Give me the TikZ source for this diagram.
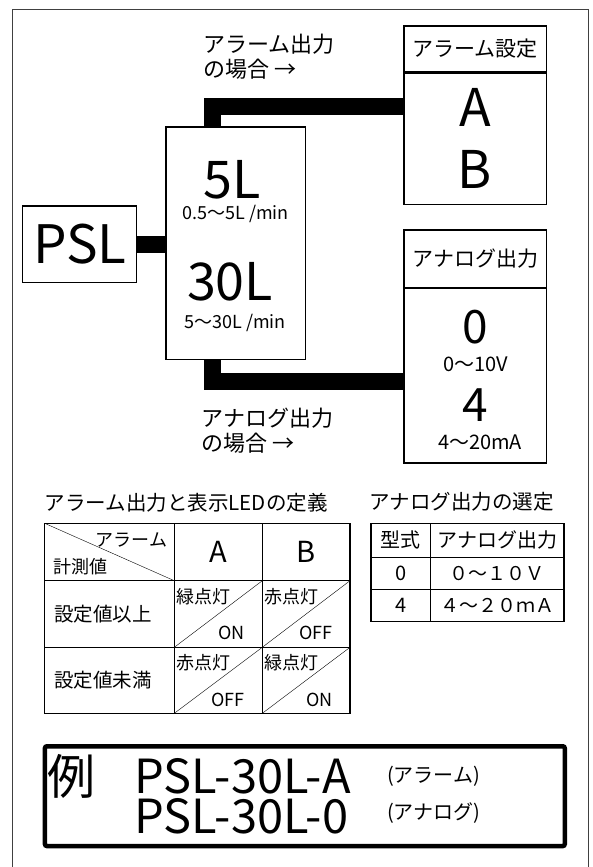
\documentclass[tikz,border=0pt]{standalone}
\usepackage{fontspec}
\setmainfont{Noto Sans CJK JP}
\usetikzlibrary{positioning,calc}
\tikzstyle{box}=[draw,line width=1.3pt,inner sep=0pt,rectangle]
\tikzstyle{bar}=[line width=16.5pt]
\tikzstyle{huge}=[inner sep=0pt,anchor=base,font=\fontsize{52}{52}\selectfont]
\tikzstyle{sub}=[inner sep=0pt,anchor=base,font=\fontsize{18}{20}\selectfont]
\tikzstyle{note}=[inner sep=0pt,anchor=north west,align=left,font=\fontsize{22}{25}\selectfont]
\tikzstyle{head}=[font=\fontsize{21}{24}\selectfont]
\tikzstyle{cell}=[inner sep=0pt,font=\fontsize{18}{20}\selectfont]
\tikzstyle{title}=[inner sep=0pt,anchor=west,font=\fontsize{20.5}{22}\selectfont]
\begin{document}
\begin{tikzpicture}[x=1pt,y=-1pt]
\useasboundingbox (0,0) rectangle (592,867);
\draw[line width=1pt,black!75] (12,870) -- (12,9.5) -- (588.5,9.5) -- (588.5,870);

% blocks
\node[box,minimum width=114pt,minimum height=76.7pt,font=\fontsize{53}{53}\selectfont] (psl) at (79.7,244.3) {PSL};
\node[box,minimum width=139.5pt,minimum height=232.3pt] (mid) at (235.7,243.2) {};
\node[huge] (m5) at (232,198.3) {5L};
\node[sub] (m5r) at (235.5,219) {0.5〜5L /min};
\node[huge] (m30) at (230,300) {30L};
\node[sub] (m30r) at (235,328) {5〜30L /min};

\node[box,head,minimum width=142.7pt,minimum height=45.7pt] (ahead) at (475.3,48.8) {アラーム設定};
\node[box,minimum width=142.7pt,minimum height=131.6pt,below=0pt of ahead] (abody) {};
\node[huge] (aA) at (475,126.7) {A};
\node[huge] (aB) at (475,188.3) {B};

\node[box,head,minimum width=142.7pt,minimum height=57.5pt] (nhead) at (475.3,258.7) {アナログ出力};
\node[box,minimum width=142.7pt,minimum height=174.2pt,below=0pt of nhead] (nbody) {};
\node[huge,font=\fontsize{46}{46}\selectfont] (n0) at (475,343.3) {0};
\node[sub,font=\fontsize{20}{22}\selectfont] (n0r) at (476,371.7) {0〜10V};
\node[huge,font=\fontsize{46}{46}\selectfont] (n4) at (475,421.7) {4};
\node[sub,font=\fontsize{20}{22}\selectfont] (n4r) at (480,449) {4〜20mA};

% connectors
\draw[bar] (psl.east) -- (psl.east -| mid.west);
\draw[bar] ([xshift=-23.4pt]mid.north) |- ([yshift=32.2pt]abody.west);
\draw[bar] ([xshift=-23.4pt]mid.south) |- ([yshift=-5.4pt]nbody.west);
\node[note] (noteA) at (203,34) {アラーム出力\\の場合 →};
\node[note] (noteN) at (201.5,408) {アナログ出力\\の場合 →};

% alarm / LED table
\node[title] (t1) at (44.7,503) {アラーム出力と表示LEDの定義};
\draw[line width=1.1pt] (44.7,523.3) rectangle (350,713.3);
\foreach \y in {580.7,647.3} \draw[line width=1.1pt] (44.7,\y) -- (350,\y);
\foreach \x in {174.3,262.3} \draw[line width=1.1pt] (\x,523.3) -- (\x,713.3);
\draw (44.7,523.3) -- (174.3,580.7);
\foreach \x/\xx in {174.3/262.3,262.3/350}
  \foreach \y/\yy in {580.7/647.3,647.3/713.3}
    \draw (\x,\yy) -- (\xx,\y);
\node[cell,anchor=east] (c0a) at (167.3,540) {アラーム};
\node[cell,anchor=west] (c0b) at (53.3,566.7) {計測値};
\node[cell,font=\fontsize{29}{30}\selectfont] (cA) at (218.3,552) {A};
\node[cell,font=\fontsize{29}{30}\selectfont] (cB) at (306,552) {B};
\node[cell,anchor=west,font=\fontsize{19.5}{20}\selectfont] (r1) at (54,614) {設定値以上};
\node[cell,anchor=west,font=\fontsize{19.5}{20}\selectfont] (r2) at (54,680.3) {設定値未満};
\node[cell,anchor=west] (r1a) at (176.2,596.7) {緑点灯};
\node[cell,anchor=east] (r1a2) at (245,633.3) {ON};
\node[cell,anchor=west] (r1b) at (264.2,596.7) {赤点灯};
\node[cell,anchor=east] (r1b2) at (333,633.3) {OFF};
\node[cell,anchor=west] (r2a) at (176.2,662.7) {赤点灯};
\node[cell,anchor=east] (r2a2) at (245,700) {OFF};
\node[cell,anchor=west] (r2b) at (264.2,662.7) {緑点灯};
\node[cell,anchor=east] (r2b2) at (333,700) {ON};

% analog table
\node[title] (t2) at (369.3,502) {アナログ出力の選定};
\draw[line width=1.1pt] (371,523.3) rectangle (564,621.7);
\foreach \y in {557.3,589.3} \draw[line width=1.1pt] (371,\y) -- (564,\y);
\draw[line width=1.1pt] (430.7,523.3) -- (430.7,621.7);
\node[cell,font=\fontsize{20}{22}\selectfont] (s0) at (400.8,540.3) {型式};
\node[cell,font=\fontsize{20}{22}\selectfont] (s1) at (497.3,540.3) {アナログ出力};
\node[cell,font=\fontsize{20}{22}\selectfont] (s2) at (400.8,573.3) {0};
\node[cell,font=\fontsize{19}{22}\selectfont] (s3) at (497.3,573.3) {０〜１０Ｖ};
\node[cell,font=\fontsize{20}{22}\selectfont] (s4) at (400.8,605.5) {4};
\node[cell,font=\fontsize{19}{22}\selectfont] (s5) at (497.3,605.5) {４〜２０ｍＡ};

% example
\node[draw,line width=4.5pt,rounded corners=2pt,minimum width=519.8pt,minimum height=99.8pt,inner sep=0pt] (ex) at (304.85,796.15) {};
\node[inner sep=0pt,anchor=west,font=\fontsize{48}{48}\selectfont] (rei) at (47.5,776) {例};
\node[inner sep=0pt,anchor=north west,align=left,font=\fontsize{47}{40}\selectfont] (exPSL) at (134.5,758.5) {PSL-30L-A\\PSL-30L-0};
\node[inner sep=0pt,anchor=west,font=\fontsize{20}{22}\selectfont] (exAt) at (387,776.7) {(アラーム)};
\node[inner sep=0pt,anchor=west,font=\fontsize{20}{22}\selectfont] (ex0t) at (387,813) {(アナログ)};
\end{tikzpicture}
\end{document}
